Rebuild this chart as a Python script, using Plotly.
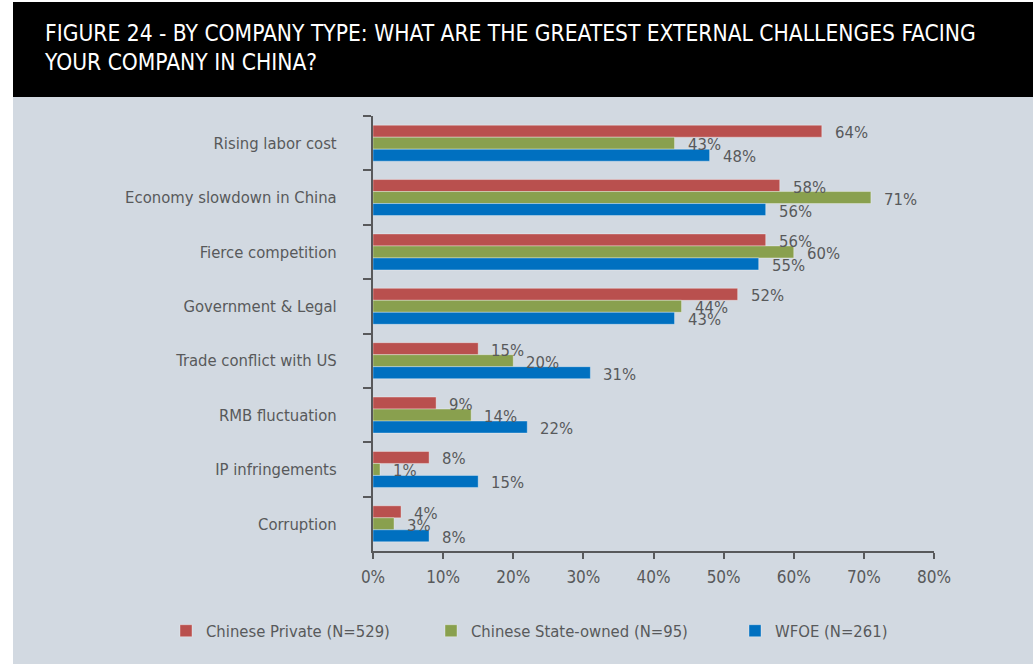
import plotly.graph_objects as go

# Survey categories, top to bottom
categories = [
    "Rising labor cost",
    "Economy slowdown in China",
    "Fierce competition",
    "Government & Legal",
    "Trade conflict with US",
    "RMB fluctuation",
    "IP infringements",
    "Corruption",
]

# Share of respondents (%) by company type
chinese_private = [64, 58, 56, 52, 15, 9, 8, 4]
chinese_state_owned = [43, 71, 60, 44, 20, 14, 1, 3]
wfoe = [48, 56, 55, 43, 31, 22, 15, 8]

series_names = ["Chinese Private (N=529)", "Chinese State-owned (N=95)", "WFOE (N=261)"]
series_values = [chinese_private, chinese_state_owned, wfoe]
series_colors = ["#b9504e", "#89a04e", "#0070c0"]
legend_widths = [220, 259, None]

x_tickvals = [0, 10, 20, 30, 40, 50, 60, 70, 80]
x_ticktext = ["0%", "10%", "20%", "30%", "40%", "50%", "60%", "70%", "80%"]

title_text = ("FIGURE 24 - BY COMPANY TYPE: WHAT ARE THE GREATEST EXTERNAL CHALLENGES FACING"
              "<br>YOUR COMPANY IN CHINA?")

FONT = "DejaVu Sans Condensed, Liberation Sans Narrow, sans-serif"
TEXT_GREY = "#58595b"
W, H = 1033, 664
ML, MR, MT, MB = 373, 99, 116, 113
PW, PH = W - ML - MR, H - MT - MB


def px_x(p):
    return (p - ML) / PW


def px_y(p):
    return (H - MB - p) / PH


fig = go.Figure()
for name, vals, col, lw in zip(series_names, series_values, series_colors, legend_widths):
    fig.add_trace(go.Bar(
        name=name,
        y=categories,
        x=vals,
        orientation="h",
        marker=dict(color=col, line=dict(color="rgba(255,255,255,0.35)", width=1)),
        legendwidth=lw,
        hoverinfo="x+name",
    ))

# Value labels to the right of each bar
annotations = []
offsets = [12, 0, -12]
for vals, dy in zip(series_values, offsets):
    for cat, v in zip(categories, vals):
        annotations.append(dict(
            x=v, y=cat, xref="x", yref="y",
            text=f"{v}%", showarrow=False,
            xanchor="left", yanchor="middle",
            xshift=11, yshift=dy - 1.5,
            font=dict(family=FONT, size=16.5, color=TEXT_GREY),
        ))

shapes = [
    # panel background
    dict(type="rect", xref="paper", yref="paper", layer="below",
         x0=px_x(13), x1=px_x(W), y0=px_y(H), y1=px_y(97),
         fillcolor="#d2d9e1", line=dict(width=0)),
    # header band
    dict(type="rect", xref="paper", yref="paper", layer="below",
         x0=px_x(13), x1=px_x(W), y0=px_y(97), y1=px_y(2),
         fillcolor="#000000", line=dict(width=0)),
]

fig.update_layout(
    width=W, height=H,
    margin=dict(l=ML, r=MR, t=MT, b=MB, pad=0),
    paper_bgcolor="#ffffff",
    plot_bgcolor="rgba(0,0,0,0)",
    barmode="group",
    bargap=0.338,
    bargroupgap=0,
    font=dict(family=FONT, size=16.5, color=TEXT_GREY),
    title=dict(
        text=title_text,
        x=45 / W, xref="container", xanchor="left",
        y=1 - 41 / H, yref="container", yanchor="middle",
        font=dict(family=FONT, size=22.6, color="#ffffff"),
    ),
    xaxis=dict(
        range=[0, 80], tickvals=x_tickvals, ticktext=x_ticktext,
        showgrid=False, zeroline=False,
        showline=True, linecolor=TEXT_GREY, linewidth=2,
        ticks="outside", ticklen=6, tickwidth=2, tickcolor=TEXT_GREY,
        ticklabelstandoff=4,
        tickfont=dict(family=FONT, size=17, color=TEXT_GREY),
        fixedrange=True,
    ),
    yaxis=dict(
        autorange="reversed", showgrid=False, zeroline=False,
        showline=True, linecolor=TEXT_GREY, linewidth=2,
        ticks="outside", tickson="boundaries", ticklen=8, tickwidth=2,
        tickcolor=TEXT_GREY, ticklabelstandoff=31,
        tickfont=dict(family=FONT, size=16.5, color=TEXT_GREY),
        fixedrange=True,
    ),
    legend=dict(
        orientation="h", x=px_x(166), xanchor="left",
        y=px_y(631), yanchor="middle",
        bgcolor="rgba(0,0,0,0)", borderwidth=0,
        font=dict(family=FONT, size=16.5, color=TEXT_GREY),
        traceorder="normal",
    ),
    shapes=shapes,
    annotations=annotations,
)

fig.write_html("out.html")
